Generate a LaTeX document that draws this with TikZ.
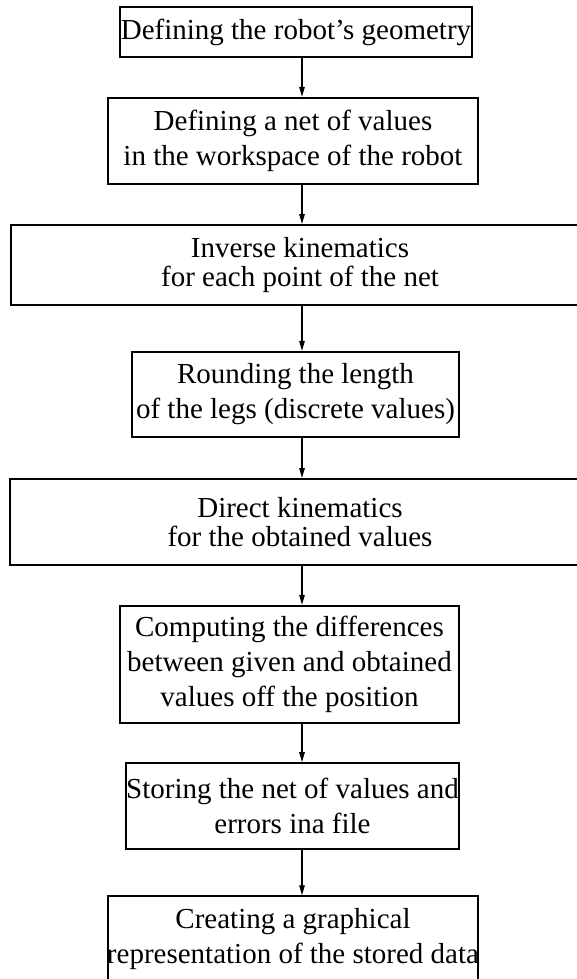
\documentclass[tikz,border=0pt]{standalone}
\usepackage{fontspec}
\setmainfont{Liberation Serif}
\usetikzlibrary{arrows.meta}
\tikzset{
  box/.style={draw=black, rectangle, inner sep=0pt, align=center,
    font=\fontsize{29}{35}\selectfont, line width=2pt},
  tightbox/.style={box, font=\fontsize{29}{29}\selectfont},
  arr/.style={line width=1.3pt, -{Triangle[length=10pt,width=5.5pt]}}
}
\begin{document}
\begin{tikzpicture}[x=1pt,y=1pt]
\useasboundingbox (0,0) rectangle (577,-979);
\coordinate (ax) at (302,0);
\node[box, line width=1.7pt, minimum width=352pt, minimum height=50pt] (b1) at (296,-32)
  {Defining the robot's geometry};
\node[box, line width=2.4pt, minimum width=370pt, minimum height=86pt] (b2) at (293,-141)
  {Defining a net of values\\in the workspace of the robot};
\node[tightbox, line width=2pt, minimum width=578pt, minimum height=80pt] (b3) at (300,-265)
  {Inverse kinematics\\for each point of the net};
\node[box, line width=2.4pt, minimum width=327pt, minimum height=85pt] (b4) at (295.5,-394.5)
  {Rounding the length\\of the legs (discrete values)};
\node[tightbox, line width=2pt, minimum width=580pt, minimum height=86pt] (b5) at (300,-522)
  {Direct kinematics\\for the obtained values};
\node[box, line width=2.4pt, minimum width=339pt, minimum height=117pt] (b6) at (289.5,-664.5)
  {Computing the differences\\between given and obtained\\values off the position};
\node[box, line width=1.7pt, minimum width=333pt, minimum height=86pt] (b7) at (292.5,-806)
  {Storing the net of values and\\errors ina file};
\node[box, line width=1.5pt, minimum width=370pt, minimum height=94pt] (b8) at (293,-943)
  {Creating a graphical\\\makebox[370pt][c]{representation of the stored data}\rule[-14.5pt]{0pt}{0pt}};
\draw[arr] (b1.south -| ax) -- (b2.north -| ax);
\draw[arr] (b2.south -| ax) -- (b3.north -| ax);
\draw[arr] (b3.south -| ax) -- (b4.north -| ax);
\draw[arr] (b4.south -| ax) -- (b5.north -| ax);
\draw[arr] (b5.south -| ax) -- (b6.north -| ax);
\draw[arr] (b6.south -| ax) -- (b7.north -| ax);
\draw[arr] (b7.south -| ax) -- (b8.north -| ax);
\end{tikzpicture}
\end{document}
